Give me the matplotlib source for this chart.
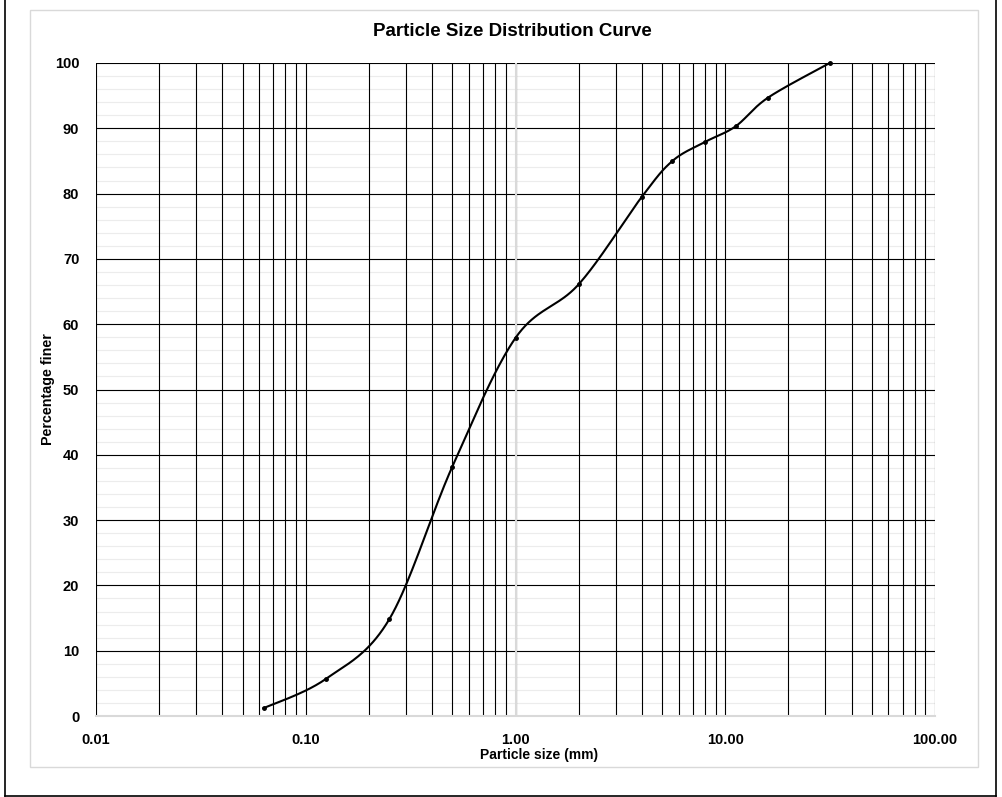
import numpy as np
import matplotlib
matplotlib.use('Agg')
import matplotlib.pyplot as plt
from matplotlib.ticker import LogLocator, FixedLocator, NullFormatter
from matplotlib.lines import Line2D
from matplotlib.patches import Rectangle

plt.rcParams['font.family'] = ['Liberation Sans', 'DejaVu Sans']

# sieve sizes (mm) and percentage passing
tamiz = [0.063, 0.125, 0.25, 0.5, 1.0, 2.0, 4.0, 5.6, 8.0, 11.2, 16.0, 31.5]
pasa = [1.2, 5.7, 14.8, 38.2, 57.9, 66.1, 79.5, 85.0, 87.9, 90.3, 94.7, 100.0]

xticks = [0.01, 0.1, 1, 10, 100]
xticklabels = ['0.01', '0.10', '1.00', '10.00', '100.00']
yticks = list(range(0, 101, 10))
yminor = list(range(2, 100, 2))

W, H = 1003, 797


def suavizado(xs, ys, n=40):
    # curva suavizada tipo Excel (Bezier Catmull-Rom) en espacio de pantalla
    u = np.log10(xs) * 209.75
    v = np.array(ys) * 6.53
    p = np.column_stack([u, v])
    out = [p[0]]
    for i in range(len(p) - 1):
        p0 = p[i - 1] if i > 0 else p[i]
        p3 = p[i + 2] if i + 2 < len(p) else p[i + 1]
        c1 = p[i] + (p[i + 1] - p0) / 6
        c2 = p[i + 1] - (p3 - p[i]) / 6
        t = np.linspace(0, 1, n)[1:, None]
        seg = ((1 - t) ** 3) * p[i] + 3 * ((1 - t) ** 2) * t * c1 \
            + 3 * (1 - t) * t ** 2 * c2 + t ** 3 * p[i + 1]
        out.extend(seg)
    out = np.array(out)
    return 10 ** (out[:, 0] / 209.75), out[:, 1] / 6.53


fig = plt.figure(figsize=(W / 100, H / 100), dpi=100)
ax = fig.add_axes([96 / W, (H - 716) / H, 839 / W, 653 / H])

ax.set_xscale('log')
ax.set_xlim(0.01, 100)
ax.set_ylim(0, 100)

ax.xaxis.set_major_locator(FixedLocator(xticks))
ax.set_xticklabels(xticklabels)
ax.xaxis.set_minor_locator(LogLocator(base=10, subs=np.arange(2, 10)))
ax.xaxis.set_minor_formatter(NullFormatter())
ax.set_yticks(yticks)

# lineas secundarias horizontales muy claras, por debajo de todo
for yv in yminor:
    ax.axhline(yv, color='#ececec', linewidth=0.8, zorder=0.1)

ax.grid(True, which='major', axis='both', color='black', linewidth=0.8)
ax.grid(True, which='minor', axis='x', color='black', linewidth=0.8)
ax.set_axisbelow(True)

for s in ['top', 'right', 'left']:
    ax.spines[s].set_visible(False)
ax.spines['bottom'].set_color('#d9d9d9')
ax.spines['bottom'].set_linewidth(1.5)
ax.axvline(1, color='#d9d9d9', linewidth=1.5, zorder=1)

ax.tick_params(axis='both', which='both', length=0)
ax.tick_params(axis='both', pad=12, labelsize=10.5)
for lab in ax.get_xticklabels() + ax.get_yticklabels():
    lab.set_fontweight('bold')

xs, ys = suavizado(tamiz, pasa)
ax.plot(xs, ys, color='black', linewidth=1.5, zorder=3, clip_on=False)
ax.plot(tamiz, pasa, 'o', color='black', markersize=2.5, zorder=4, clip_on=False)

fig.text(512 / W, 1 - 31 / H, 'Particle Size Distribution Curve', ha='center', va='center',
         fontsize=13.5, fontweight='bold')
fig.text(539 / W, 1 - 755 / H, 'Particle size (mm)', ha='center', va='center',
         fontsize=10, fontweight='bold')
fig.text(48 / W, 1 - 389 / H, 'Percentage finer', ha='center', va='center',
         fontsize=10.3, fontweight='bold', rotation=90)

# marco interior gris y bordes exteriores
fig.patches.append(Rectangle((30 / W, 1 - 767 / H), 948 / W, 757 / H, transform=fig.transFigure,
                             fill=False, edgecolor='#d9d9d9', linewidth=1))
for (x0, y0, x1, y1) in [(5, 0, 5, 796), (996, 0, 996, 796), (5, 796, 996, 796)]:
    fig.lines.append(Line2D([x0 / W, x1 / W], [1 - y0 / H, 1 - y1 / H], transform=fig.transFigure,
                            color='black', linewidth=1.2))

fig.savefig('out.png', dpi=100)
